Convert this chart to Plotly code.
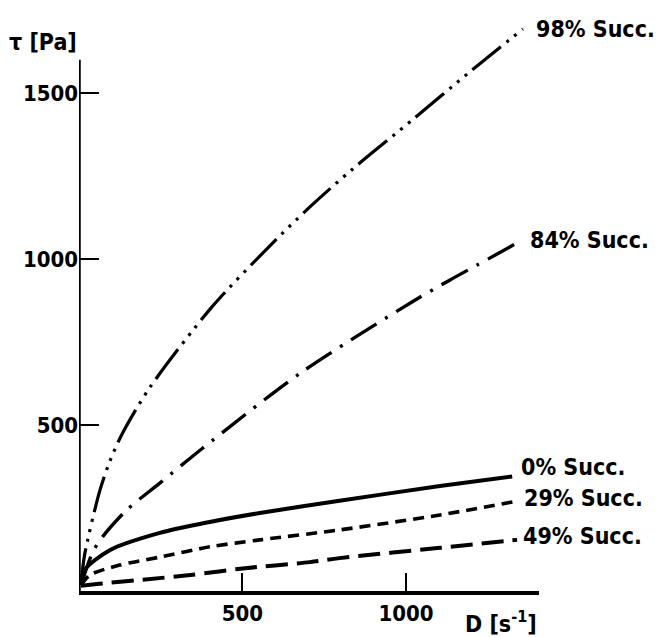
import plotly.graph_objects as go

# Shear rate D [1/s] and shear stress tau [Pa]
d_98 = [6, 17, 63, 94, 133, 216, 406, 577, 703, 838, 1021, 1202, 1358]
t_98 = [18, 108, 300, 390, 475, 612, 855, 1033, 1154, 1272, 1420, 1569, 1693]

d_84 = [6, 42, 72, 146, 247, 378, 675, 1021, 1135, 1218, 1279, 1355]
t_84 = [18, 117, 163, 244, 325, 430, 655, 872, 937, 982, 1015, 1057]

d_0 = [6, 17, 94, 247, 400, 553, 797, 1104, 1325]
t_0 = [18, 63, 123, 175, 208, 235, 272, 316, 345]

d_29 = [6, 33, 124, 247, 400, 553, 797, 1104, 1340]
t_29 = [18, 48, 78, 102, 133, 154, 184, 229, 271]

d_49 = [6, 63, 195, 348, 501, 706, 797, 1104, 1340]
t_49 = [16, 22, 34, 49, 68, 87, 99, 130, 154]

labels = ["98% Succ.", "84% Succ.", "0% Succ.", "29% Succ.", "49% Succ."]
x_ticks = [500, 1000]
y_ticks = [500, 1000, 1500]
x_axis_end = 1407
y_axis_end = 1600

FONT = "Liberation Sans Narrow, DejaVu Sans Condensed, Liberation Sans, sans-serif"

series = [
    (d_98, t_98, "37px,7px,3px,7px,3px,7px,3px,7px", 3.2),
    (d_84, t_84, "30px,10px,3px,10px", 3.4),
    (d_0, t_0, "solid", 4),
    (d_29, t_29, "11px,7px", 3.6),
    (d_49, t_49, "22px,9px", 4),
]

fig = go.Figure()
for (xs, ys, dash, w), name in zip(series, labels):
    fig.add_trace(go.Scatter(
        x=xs, y=ys, mode="lines", name=name,
        line=dict(color="black", width=w, dash=dash, shape="spline", smoothing=0.8),
        showlegend=False, hoverinfo="skip",
    ))

# curve labels at the right end of each curve
label_pos = [
    (d_98[-1], t_98[-1], 0),
    (d_84[-1], t_84[-1], 0),
    (d_0[-1], t_0[-1], 9),
    (d_29[-1], t_29[-1], 3),
    (d_49[-1], t_49[-1], 4),
]
label_shift = [11, 6, 7, 5, 4]
font_lbl = dict(family=FONT, size=23, color="black", weight="bold")
for (x, y, dy), dx, txt in zip(label_pos, label_shift, labels):
    fig.add_annotation(x=x, y=y, text=txt, showarrow=False, xanchor="left",
                       yanchor="middle", xshift=dx, yshift=dy, font=font_lbl)

# axis titles
fig.add_annotation(x=0, y=y_axis_end, xref="x", yref="y", text="τ [Pa]",
                   showarrow=False, xanchor="right", yanchor="bottom",
                   xshift=0, yshift=3, font=font_lbl)
fig.add_annotation(x=x_axis_end, y=0, xref="x", yref="y", text="D [s<sup>-1</sup>]",
                   showarrow=False, xanchor="right", yanchor="top",
                   yshift=-14, font=font_lbl)

# y axis line (stops below the top of the plotting range)
fig.add_shape(type="line", xref="x", yref="y", x0=0, x1=0, y0=0, y1=y_axis_end,
              line=dict(color="black", width=3.5))

tick_font = dict(family=FONT, size=22, color="black", weight="bold")
fig.update_xaxes(range=[0, x_axis_end], tickvals=x_ticks, ticktext=[str(v) for v in x_ticks],
                 ticks="inside", ticklen=18, tickwidth=1.5, tickcolor="black",
                 showline=True, linecolor="black", linewidth=3.5,
                 showgrid=False, zeroline=False, tickfont=tick_font)
fig.update_yaxes(range=[0, 1720], tickvals=y_ticks, ticktext=[str(v) for v in y_ticks],
                 ticks="inside", ticklen=20, tickwidth=1.5, tickcolor="black",
                 showline=False, showgrid=False, zeroline=False, tickfont=tick_font)

fig.update_layout(
    width=661, height=637,
    margin=dict(l=79, r=122, t=20, b=46),
    paper_bgcolor="white", plot_bgcolor="white",
)

fig.write_html("out.html")
